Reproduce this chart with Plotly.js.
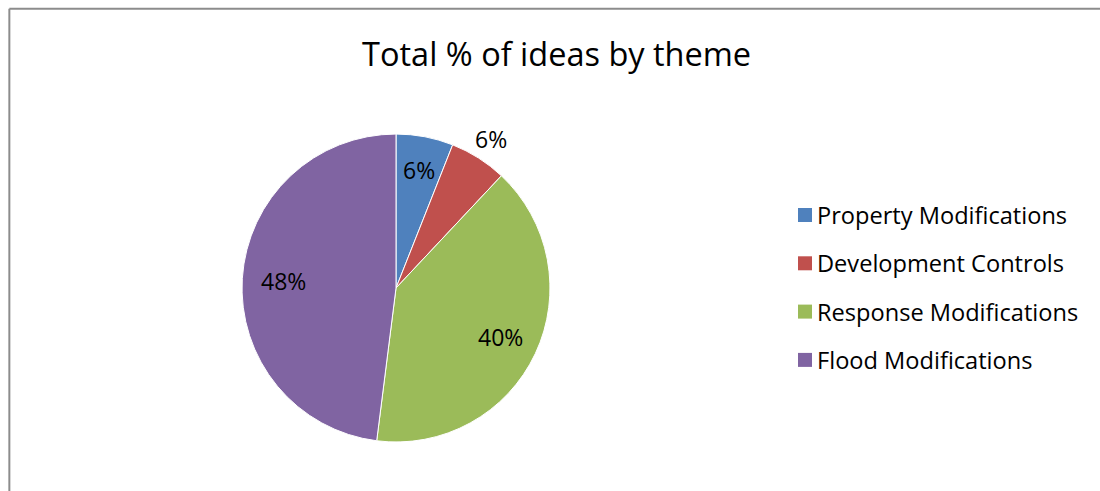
<!DOCTYPE html>
<html>
<head>
<meta charset="utf-8">
<script src="https://cdn.plot.ly/plotly-3.0.1.min.js"></script>
<style>html,body{margin:0;padding:0;background:#fff;}#chart{width:1100px;height:491px;}</style>
</head>
<body>
<div id="chart"></div>
<script>
const categories = ["Property Modifications", "Development Controls", "Response Modifications", "Flood Modifications"];
const values = [6, 6, 40, 48];
const colors = ["#4F81BD", "#C0504D", "#9BBB59", "#8064A2"];
const labelRadius = [0.78, 1.15, 0.75, 0.73];
const chartTitle = "Total % of ideas by theme";

const FONT = "'Open Sans', sans-serif";
const W = 1100, H = 491;
const dom = {x: [0.22, 0.50], y: [0.0998, 0.727]};

const trace = {
  type: "pie",
  labels: categories,
  values: values,
  sort: false,
  direction: "clockwise",
  rotation: 0,
  marker: {colors: colors, line: {color: "#ffffff", width: 1}},
  textinfo: "none",
  showlegend: false,
  hoverinfo: "label+percent",
  domain: dom
};

const shapes = [
  {type: "line", xref: "paper", yref: "paper", x0: 0.0085, x1: 0.0085, y0: 0, y1: 0.982, line: {color: "#8c8c8c", width: 2}},
  {type: "line", xref: "paper", yref: "paper", x0: 0.0085, x1: 1, y0: 0.982, y1: 0.982, line: {color: "#8c8c8c", width: 2}}
];
const annotations = [];

// percentage labels placed from the slice values
const total = values.reduce((a, b) => a + b, 0);
const cx = (dom.x[0] + dom.x[1]) / 2 * W;
const cy = (1 - (dom.y[0] + dom.y[1]) / 2) * H;
const r = Math.min((dom.x[1] - dom.x[0]) * W, (dom.y[1] - dom.y[0]) * H) / 2;
let cum = 0;
values.forEach((v, i) => {
  const mid = (cum + v / 2) / total * 2 * Math.PI;
  cum += v;
  const px = cx + Math.sin(mid) * r * labelRadius[i];
  const py = cy - Math.cos(mid) * r * labelRadius[i];
  annotations.push({xref: "paper", yref: "paper", x: px / W, y: 1 - py / H,
    xanchor: "center", yanchor: "middle", showarrow: false,
    text: Math.round(v / total * 100) + "%",
    font: {family: FONT, size: 23, color: "#000000"}});
});

// legend built from the category list
const legX = 798, legY0 = 215, legStep = 48.3;
categories.forEach((c, i) => {
  const yc = legY0 + i * legStep;
  shapes.push({type: "rect", xref: "paper", yref: "paper",
    x0: legX / W, x1: (legX + 14) / W, y0: 1 - (yc + 7) / H, y1: 1 - (yc - 7) / H,
    fillcolor: colors[i], line: {width: 0}});
  annotations.push({xref: "paper", yref: "paper", x: (legX + 17) / W, y: 1 - yc / H,
    xanchor: "left", yanchor: "middle", showarrow: false, text: c,
    font: {family: FONT, size: 23.6, color: "#000000"}});
});

const layout = {
  width: W, height: H,
  margin: {l: 0, r: 0, t: 0, b: 0},
  paper_bgcolor: "#ffffff",
  title: {text: chartTitle, x: 0.506, xanchor: "center", y: 0.888, yanchor: "middle",
    font: {family: FONT, size: 32.5, color: "#000000"}},
  shapes: shapes,
  annotations: annotations,
  showlegend: false
};

Plotly.newPlot("chart", [trace], layout, {displayModeBar: false, staticPlot: true});
</script>
</body>
</html>
